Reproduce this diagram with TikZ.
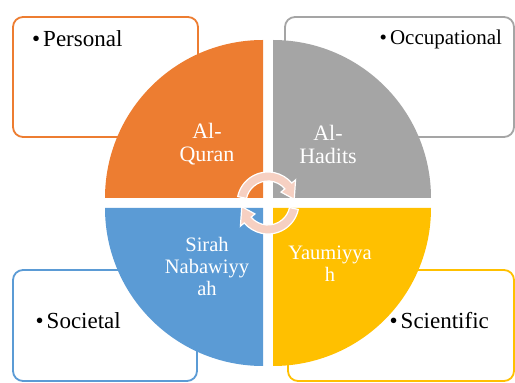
\documentclass[tikz,border=0pt]{standalone}
\usepackage{fontspec}
\setmainfont{Liberation Serif}
\usepackage{tikz}
\usetikzlibrary{calc}

\definecolor{qorange}{RGB}{237,125,49}
\definecolor{qgrey}{RGB}{165,165,165}
\definecolor{qyellow}{RGB}{255,192,0}
\definecolor{qblue}{RGB}{91,155,213}
\definecolor{cyclefill}{RGB}{246,208,194}

\begin{document}
\begin{tikzpicture}[x=1pt,y=1pt]

	\tikzset{listbox/.style={line width=1.8pt,rounded corners=10pt,fill=white},
	         qlabel/.style={text=white,align=center,inner sep=0pt,font=\fontsize{22}{23}\selectfont},
	         item/.style={anchor=base west,inner sep=0pt,font=\fontsize{23}{27}\selectfont},
	         cyclearrow/.style={fill=cyclefill,draw=white,line width=1.2pt}}

	\useasboundingbox (0,0) rectangle (515,383);

	% text boxes behind the circle
	\draw[listbox,draw=qorange] (13,246) rectangle (198,366);
	\draw[listbox,draw=qgrey] (285,246) rectangle (514,366);
	\draw[listbox,draw=qblue] (13,2) rectangle (197,113);
	\draw[listbox,draw=qyellow] (288,2) rectangle (514,113);

	\node[item] (personal) at (32,336) {•\hspace{3pt}Personal};
	\node[item,font=\fontsize{21}{25}\selectfont] (occupational) at (379.5,338) {•\hspace{3pt}Occupational};
	\node[item] (societal) at (35.5,54) {•\hspace{3pt}Societal};
	\node[item] (scientific) at (389.5,54) {•\hspace{3pt}Scientific};

	% quarters
	\coordinate (oc) at (263,185);
	\coordinate (gc) at (273,185);
	\coordinate (yc) at (273,175);
	\coordinate (bc) at (263,175);
	\fill[qorange] (oc) -- ++(-158,0) arc[start angle=180,end angle=90,radius=158] -- cycle;
	\fill[qgrey] (gc) -- ++(0,158) arc[start angle=90,end angle=0,radius=158] -- cycle;
	\fill[qyellow] (yc) -- ++(158,0) arc[start angle=0,end angle=-90,radius=158] -- cycle;
	\fill[qblue] (bc) -- ++(0,-158) arc[start angle=270,end angle=180,radius=158] -- cycle;

	\node[qlabel] (quran) at (207,239) {Al-\\Quran};
	\node[qlabel] (hadits) at (328,239) {Al-\\Hadits};
	\node[qlabel,font=\fontsize{20.5}{22}\selectfont] (sirah) at (207,117) {Sirah\\Nabawiyy\\ah};
	\node[qlabel,font=\fontsize{20.5}{22}\selectfont] (yaumiyyah) at (330,119) {Yaumiyya\\h};

	% cycle arrows
	\coordinate (hub) at (268,180);
	\filldraw[cyclearrow] ($(hub)+(168:31)$) arc[start angle=168,end angle=40,radius=31]
		-- ($(hub)+(40:36)$) -- ($(hub)+(8:26.5)$) -- ($(hub)+(40:17)$)
		-- ($(hub)+(40:22)$) arc[start angle=40,end angle=168,radius=22] -- cycle;
	\filldraw[cyclearrow] ($(hub)+(348:31)$) arc[start angle=348,end angle=220,radius=31]
		-- ($(hub)+(220:36)$) -- ($(hub)+(188:26.5)$) -- ($(hub)+(220:17)$)
		-- ($(hub)+(220:22)$) arc[start angle=220,end angle=348,radius=22] -- cycle;

\end{tikzpicture}
\end{document}
